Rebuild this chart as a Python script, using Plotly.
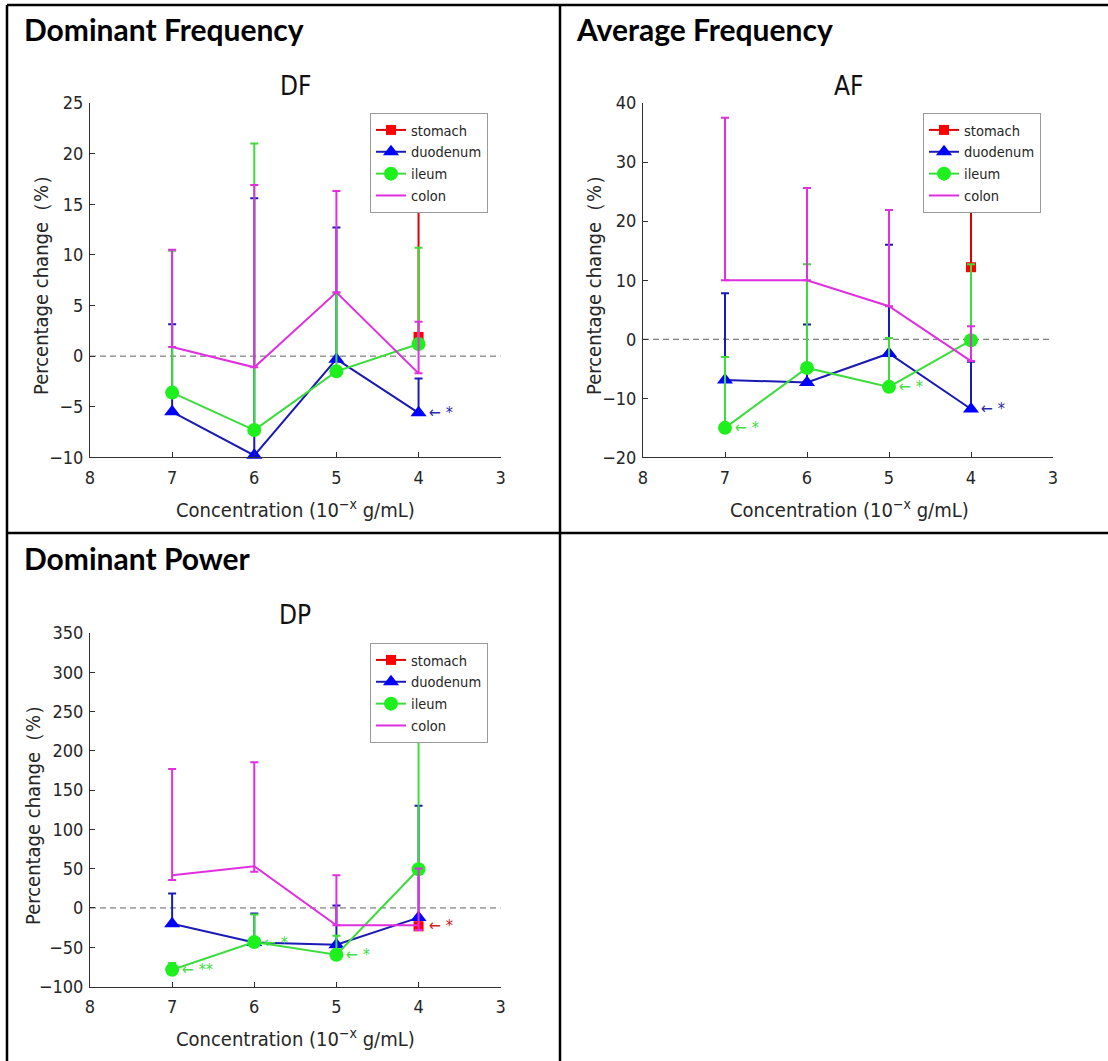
import plotly.graph_objects as go

W, H = 1108, 1061

def px(x):
    return x / W

def py(y):
    return 1 - y / H

# ---------------- data ----------------
conc = [7, 6, 5, 4]
stomach_conc = [4]
series_names = ["stomach", "duodenum", "ileum", "colon"]

# Dominant Frequency (DF)
df_stomach = [1.9]
df_stomach_err = [16.0]
df_duodenum = [-5.5, -9.8, -0.3, -5.6]
df_duodenum_err = [8.65, 25.4, 13.0, 3.4]
df_ileum = [-3.6, -7.3, -1.5, 1.2]
df_ileum_err = [14.0, 28.3, 7.7, 9.5]
df_colon = [0.9, -1.1, 6.3, -1.7]
df_colon_err = [9.6, 18.0, 10.0, 5.1]
df_colon_errminus = [0, 0, 0, 0]

# Average Frequency (AF)
af_stomach = [12.2]
af_stomach_err = [16.0]
af_duodenum = [-6.9, -7.3, -2.4, -11.8]
af_duodenum_err = [14.7, 9.8, 18.4, 8.0]
af_ileum = [-15.0, -4.85, -8.06, -0.17]
af_ileum_err = [12.0, 17.55, 8.26, 12.87]
af_colon = [10.0, 10.0, 5.6, -3.7]
af_colon_err = [27.5, 15.6, 16.3, 5.9]
af_colon_errminus = [0, 0, 0, 0]

# Dominant Power (DP)
dp_stomach = [-23.4]
dp_stomach_err = [5.0]
dp_duodenum = [-20.0, -44.0, -46.8, -12.3]
dp_duodenum_err = [38.3, 36.8, 49.8, 142.3]
dp_ileum = [-78.7, -43.4, -59.5, 49.3]
dp_ileum_err = [8.7, 34.9, 24.2, 200.7]
dp_colon = [41.7, 53.1, -22.1, -22.0]
dp_colon_err = [135.2, 132.3, 63.8, 72.2]
dp_colon_errminus = [6, 7, 0, 6]

x_ticks = [8, 7, 6, 5, 4, 3]

# significance marks: (x, y, text, colour)
df_marks = [(4, -5.6, "← *", "#2a2ab0")]
af_marks = [(7, -15.0, "← *", "#44dd44"), (5, -8.06, "← *", "#44dd44"), (4, -11.8, "← *", "#2a2ab0")]
dp_marks = [(7, -78.7, "← **", "#44dd44"), (6, -43.4, "← *", "#44dd44"),
            (5, -59.5, "← *", "#44dd44"), (4, -22.0, "← *", "#d02020")]

# ---------------- styles ----------------
PLOT_FONT = "Liberation Sans Narrow, DejaVu Sans Condensed, Liberation Sans, Arial, sans-serif"
HEAD_FONT = "Lato, Open Sans, sans-serif"
AXIS_COL = "#303030"

STY = {
    "stomach": dict(line="#dd0000", marker="#ff0000", symbol="square", size=10),
    "duodenum": dict(line="#1a1ab4", marker="#0000ff", symbol="triangle-up", size=14),
    "ileum": dict(line="#3cdc3c", marker="#1ef01e", symbol="circle", size=14),
    "colon": dict(line="#e02ee0", marker="#e02ee0", symbol=None, size=0),
}

fig = go.Figure()

panels = [
    ("DF", "x", "y", "legend",
     {"stomach": (stomach_conc, df_stomach, df_stomach_err, [0]),
      "duodenum": (conc, df_duodenum, df_duodenum_err, [0, 0, 0, 0]),
      "ileum": (conc, df_ileum, df_ileum_err, [0, 0, 0, 0]),
      "colon": (conc, df_colon, df_colon_err, df_colon_errminus)}),
    ("AF", "x2", "y2", "legend2",
     {"stomach": (stomach_conc, af_stomach, af_stomach_err, [0]),
      "duodenum": (conc, af_duodenum, af_duodenum_err, [0, 0, 0, 0]),
      "ileum": (conc, af_ileum, af_ileum_err, [0, 0, 0, 0]),
      "colon": (conc, af_colon, af_colon_err, af_colon_errminus)}),
    ("DP", "x3", "y3", "legend3",
     {"stomach": (stomach_conc, dp_stomach, dp_stomach_err, [0]),
      "duodenum": (conc, dp_duodenum, dp_duodenum_err, [0, 0, 0, 0]),
      "ileum": (conc, dp_ileum, dp_ileum_err, [0, 0, 0, 0]),
      "colon": (conc, dp_colon, dp_colon_err, dp_colon_errminus)}),
]

for pname, xa, ya, leg, data in panels:
    for name in series_names:
        xs, ys, ep, em = data[name]
        st = STY[name]
        if st["symbol"] is None:
            mode = "lines"
            marker = None
        else:
            mode = "lines+markers"
            marker = dict(symbol=st["symbol"], size=st["size"], color=st["marker"], line=dict(width=0))
        fig.add_trace(go.Scatter(
            x=xs, y=ys, mode=mode, name=name,
            line=dict(color=st["line"], width=2),
            marker=marker,
            error_y=dict(type="data", symmetric=False, array=ep, arrayminus=em,
                         color=st["line"], thickness=2, width=4),
            xaxis=xa, yaxis=ya, legend=leg, cliponaxis=False,
            showlegend=True,
        ))

# ---------------- axes ----------------
def xaxis_cfg(x0, x1):
    return dict(domain=[px(x0), px(x1)], range=[8, 3], tickvals=x_ticks,
                ticks="inside", ticklen=5, tickcolor=AXIS_COL, showline=True,
                linecolor=AXIS_COL, linewidth=1, showgrid=False, zeroline=False,
                tickfont=dict(family=PLOT_FONT, size=18, color="#262626"),
                ticklabelstandoff=4, fixedrange=True, automargin=False)

def yaxis_cfg(y0, y1, rng, dtick):
    return dict(domain=[py(y1), py(y0)], range=rng, dtick=dtick,
                ticks="inside", ticklen=5, tickcolor=AXIS_COL, showline=True,
                linecolor=AXIS_COL, linewidth=1, showgrid=False, zeroline=False,
                tickfont=dict(family=PLOT_FONT, size=18, color="#262626"),
                ticklabelstandoff=2, fixedrange=True, automargin=False)

fig.update_layout(
    width=W, height=H, autosize=False,
    margin=dict(l=0, r=0, t=0, b=0, pad=0, autoexpand=False),
    paper_bgcolor="white", plot_bgcolor="white",
    xaxis=dict(**xaxis_cfg(90, 500.7), anchor="y"),
    yaxis=dict(**yaxis_cfg(103, 457.4, [-10, 25], 5), anchor="x"),
    xaxis2=dict(**xaxis_cfg(643, 1053), anchor="y2"),
    yaxis2=dict(**yaxis_cfg(103, 457.4, [-20, 40], 10), anchor="x2"),
    xaxis3=dict(**xaxis_cfg(90, 500.7), anchor="y3"),
    yaxis3=dict(**yaxis_cfg(633, 986.5, [-100, 350], 50), anchor="x3"),
)

def legend_cfg(x, y):
    return dict(x=px(x), y=py(y), xanchor="left", yanchor="top",
                bgcolor="white", bordercolor="#9a9a9a", borderwidth=1,
                font=dict(family=PLOT_FONT, size=14.5, color="#262626"),
                tracegroupgap=0, itemwidth=30)

fig.update_layout(legend=legend_cfg(370, 113),
                  legend2=legend_cfg(923, 113),
                  legend3=legend_cfg(370, 643))

# ---------------- annotations ----------------
ann = []
for text, x, y in [("Dominant Frequency", 22, 29), ("Average Frequency", 574, 29), ("Dominant Power", 22, 558)]:
    ann.append(dict(text="<b>" + text + "</b>", x=px(x), y=py(y), xref="paper", yref="paper",
                    xanchor="left", yanchor="middle", showarrow=False,
                    font=dict(family=HEAD_FONT, size=30, color="black")))
for text, x, y in [("DF", 295, 86), ("AF", 848, 86), ("DP", 295, 615)]:
    ann.append(dict(text=text, x=px(x), y=py(y), xref="paper", yref="paper",
                    xanchor="center", yanchor="middle", showarrow=False,
                    font=dict(family=PLOT_FONT, size=26, color="#111111")))
for x, y in [(41, 280), (594, 280), (33, 810)]:
    ann.append(dict(text="Percentage change（%）", x=px(x), y=py(y), xref="paper", yref="paper",
                    xanchor="center", yanchor="middle", showarrow=False, textangle=-90,
                    font=dict(family=PLOT_FONT, size=20, color="#262626")))
for x, y in [(295, 509), (849, 509), (295, 1038)]:
    ann.append(dict(text="Concentration (10<sup>−x</sup> g/mL)", x=px(x), y=py(y), xref="paper", yref="paper",
                    xanchor="center", yanchor="middle", showarrow=False,
                    font=dict(family=PLOT_FONT, size=20, color="#262626")))
for marks, xr, yr in [(df_marks, "x", "y"), (af_marks, "x2", "y2"), (dp_marks, "x3", "y3")]:
    for mx, my, txt, col in marks:
        ann.append(dict(text=txt, x=mx, y=my, xref=xr, yref=yr, xanchor="left", yanchor="middle",
                        xshift=8, showarrow=False, font=dict(family=PLOT_FONT, size=16, color=col)))
fig.update_layout(annotations=ann)

# ---------------- shapes (table borders, zero lines) ----------------
shapes = []
for x0, y0, x1, y1 in [(7, 5, 1108, 5), (7, 5, 7, 1061), (560, 5, 560, 1061), (7, 533, 1108, 533)]:
    shapes.append(dict(type="line", xref="paper", yref="paper", x0=px(x0), y0=py(y0), x1=px(x1), y1=py(y1),
                       line=dict(color="black", width=2.5)))
for xr, yr in [("x", "y"), ("x2", "y2"), ("x3", "y3")]:
    shapes.append(dict(type="line", xref=xr, yref=yr, x0=8, x1=3, y0=0, y1=0, layer="below",
                       line=dict(color="#606060", width=1, dash="6px,4px")))
fig.update_layout(shapes=shapes)

fig.write_html(
    "out.html",
    config={"displayModeBar": False},
    post_script="document.body.style.margin='0px';document.body.style.padding='0px';"
                "document.body.style.overflow='hidden';",
)
